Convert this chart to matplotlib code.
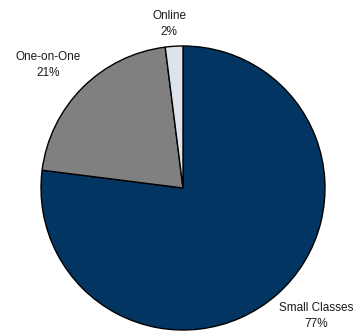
import matplotlib
matplotlib.use("Agg")
import matplotlib.pyplot as plt
from matplotlib import font_manager

categories = ["Small Classes", "One-on-One", "Online"]
shares = [77, 21, 2]
colors = ["#033563", "#808080", "#dde3ea"]

names = {f.name for f in font_manager.fontManager.ttflist}
family = "Liberation Sans Narrow" if "Liberation Sans Narrow" in names else "Liberation Sans"
plt.rcParams["font.family"] = [family, "DejaVu Sans"]

W, H, DPI = 353, 335, 100
fig = plt.figure(figsize=(W / DPI, H / DPI), dpi=DPI)
ax = fig.add_axes([0, 0, 1, 1])

# pie centre and radius in pixels
cx, cy, r = 183, 188, 142
ax.pie(shares, colors=colors, startangle=90, counterclock=False,
       radius=1.0, center=(0, 0), frame=True,
       wedgeprops=dict(edgecolor="black", linewidth=1.0))
ax.set_xlim(-cx / r, (W - cx) / r)
ax.set_ylim(-(H - cy) / r, cy / r)
ax.set_aspect("auto")
ax.axis("off")

# label anchors (pixel coords converted to data units)
label_px = {"Online": (169, 24), "One-on-One": (48, 65), "Small Classes": (316, 316)}
for name, val in zip(categories, shares):
    px, py = label_px[name]
    ax.text((px - cx) / r, (cy - py) / r, f"{name}\n{val}%",
            ha="center", va="center", fontsize=8.5, color="#1a1a1a",
            linespacing=1.45)

fig.savefig("out.png", dpi=DPI)
